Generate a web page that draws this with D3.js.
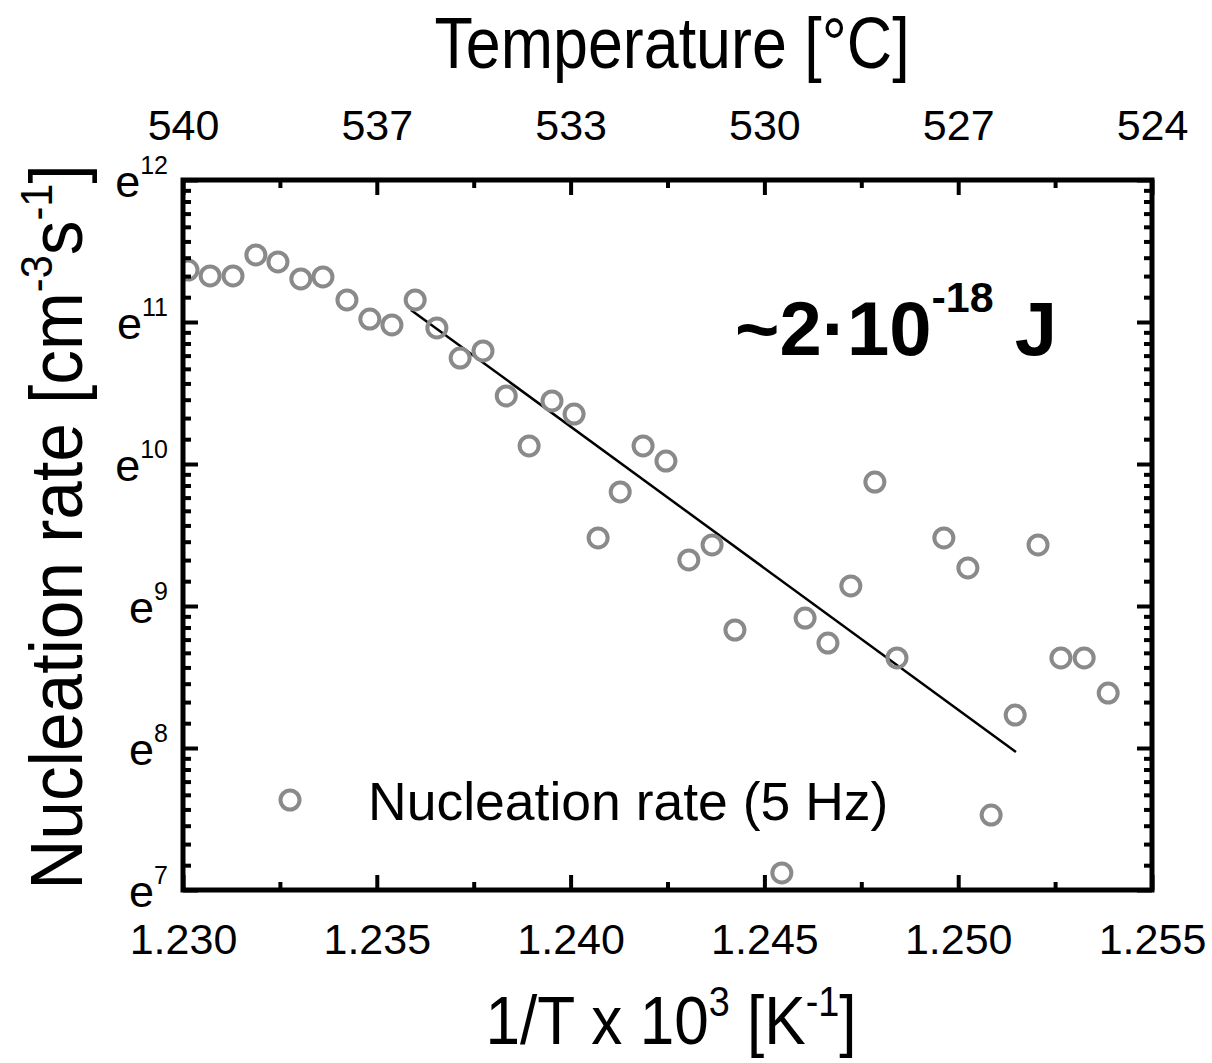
<!DOCTYPE html>
<html>
<head>
<meta charset="utf-8">
<script src="https://cdn.jsdelivr.net/npm/d3@7"></script>
<style>
  body { margin: 0; background: #fff; }
  svg text { font-family: Arial, "Liberation Sans", sans-serif; fill: #000; }
</style>
</head>
<body>
<script>
// 1/T x 10^3 [K^-1]
const invT = [
  1.23013, 1.23070, 1.23129, 1.23188, 1.23245, 1.23304, 1.23361, 1.23423,
  1.23482, 1.23539, 1.23599, 1.23655, 1.23715, 1.23774, 1.23834, 1.23893,
  1.23952, 1.24009, 1.24071, 1.24128, 1.24187, 1.24246, 1.24305, 1.24365,
  1.24424, 1.24545, 1.24605, 1.24664, 1.24723, 1.24785, 1.24842, 1.24963,
  1.25025, 1.25085, 1.25147, 1.25206, 1.25265, 1.25325, 1.25387
]
// ln of nucleation rate [cm^-3 s^-1]
const lnRate = [
  11.366, 11.324, 11.324, 11.472, 11.423, 11.303, 11.317, 11.155,
  11.021, 10.979, 11.155, 10.958, 10.746, 10.796, 10.479, 10.127,
  10.444, 10.352, 9.479, 9.803, 10.127, 10.021, 9.324, 9.430,
  8.831, 7.120, 8.915, 8.739, 9.141, 9.873, 8.634, 9.479,
  9.268, 7.528, 8.232, 9.430, 8.634, 8.634, 8.387
]
// linear fit (Arrhenius), end points
const fitInvT = [1.23588, 1.25149]
const fitLnRate = [11.085, 7.972]

const xTicks = [1.230, 1.235, 1.240, 1.245, 1.250, 1.255]
const yPowers = [7, 8, 9, 10, 11, 12]

;(function () {
  'use strict'
  const width = 1212, height = 1063
  const margin = {top: 180, right: 60, bottom: 173, left: 183}
  const x0 = margin.left, x1 = width - margin.right
  const y0 = margin.top, y1 = height - margin.bottom
  const grey = '#8a8a8a'

  const x = d3.scaleLinear().domain([1.230, 1.255]).range([x0, x1])
  const y = d3.scaleLog().base(Math.E).domain([Math.exp(7), Math.exp(12)]).range([y1, y0])

  const xMinor = d3.pairs(xTicks).map(p => (p[0] + p[1]) / 2)
  const yMinor = []
  yPowers.slice(0, -1).forEach(n => {
    const a = Math.exp(n), b = Math.exp(n + 1)
    for (let k = 1; k <= 8; k++) yMinor.push(a + k * (b - a) / 9)
  })

  const svg = d3.select('body').append('svg')
    .attr('width', width)
    .attr('height', height)

  svg.append('defs').append('clipPath').attr('id', 'plot')
    .append('rect')
    .attr('x', x0).attr('y', y0)
    .attr('width', x1 - x0).attr('height', y1 - y0)

  const plot = svg.append('g').attr('clip-path', 'url(#plot)')

  // fit line
  plot.append('line')
    .attr('x1', x(fitInvT[0]))
    .attr('y1', y(Math.exp(fitLnRate[0])))
    .attr('x2', x(fitInvT[1]))
    .attr('y2', y(Math.exp(fitLnRate[1])))
    .style('stroke', '#000')
    .style('stroke-width', 2.5)

  // data
  plot.selectAll('.dot')
    .data(invT.map((d, i) => ({x: d, r: Math.exp(lnRate[i])})))
    .enter().append('circle')
    .attr('class', 'dot')
    .attr('cx', d => x(d.x))
    .attr('cy', d => y(d.r))
    .attr('r', 9.5)
    .style('fill', 'none')
    .style('stroke', grey)
    .style('stroke-width', 4)

  function styleAxis (g, size) {
    g.select('.domain').remove()
    g.selectAll('.tick line').style('stroke', '#000').style('stroke-width', 4)
    g.selectAll('.tick text').style('font-size', size + 'px').style('font-family', 'Arial, "Liberation Sans", sans-serif')
  }

  // bottom axis
  svg.append('g')
    .attr('transform', `translate(0, ${y1})`)
    .call(d3.axisBottom(x).tickValues(xTicks).tickSizeInner(-15).tickSizeOuter(0)
      .tickPadding(33).tickFormat(d3.format('.3f')))
    .call(g => styleAxis(g, 43))
  svg.append('g')
    .attr('transform', `translate(0, ${y1})`)
    .call(d3.axisBottom(x).tickValues(xMinor).tickSizeInner(-8).tickSizeOuter(0).tickFormat(''))
    .call(g => styleAxis(g, 43))

  // top axis (temperature in °C)
  svg.append('g')
    .attr('transform', `translate(0, ${y0})`)
    .call(d3.axisTop(x).tickValues(xTicks).tickSizeInner(-15).tickSizeOuter(0)
      .tickPadding(40).tickFormat(d => Math.round(1000 / d - 273.15)))
    .call(g => styleAxis(g, 43))
  svg.append('g')
    .attr('transform', `translate(0, ${y0})`)
    .call(d3.axisTop(x).tickValues(xMinor).tickSizeInner(-8).tickSizeOuter(0).tickFormat(''))
    .call(g => styleAxis(g, 43))

  // left axis
  const yLeft = svg.append('g')
    .attr('transform', `translate(${x0}, 0)`)
    .call(d3.axisLeft(y).tickValues(yPowers.map(Math.exp)).tickSizeInner(-15).tickSizeOuter(0)
      .tickPadding(15).tickFormat(''))
    .call(g => styleAxis(g, 45))
  yLeft.selectAll('.tick text')
    .attr('dy', 16)
    .each(function (d) {
      const t = d3.select(this)
      t.append('tspan').text('e')
      t.append('tspan').attr('dy', -23).style('font-size', '25px').text(Math.round(Math.log(d)))
    })
  svg.append('g')
    .attr('transform', `translate(${x0}, 0)`)
    .call(d3.axisLeft(y).tickValues(yMinor).tickSizeInner(-8).tickSizeOuter(0).tickFormat(''))
    .call(g => styleAxis(g, 44))

  // right axis
  svg.append('g')
    .attr('transform', `translate(${x1}, 0)`)
    .call(d3.axisRight(y).tickValues(yPowers.map(Math.exp)).tickSizeInner(-15).tickSizeOuter(0).tickFormat(''))
    .call(g => styleAxis(g, 44))
  svg.append('g')
    .attr('transform', `translate(${x1}, 0)`)
    .call(d3.axisRight(y).tickValues(yMinor).tickSizeInner(-8).tickSizeOuter(0).tickFormat(''))
    .call(g => styleAxis(g, 44))

  // frame
  svg.append('rect')
    .attr('x', x0).attr('y', y0)
    .attr('width', x1 - x0).attr('height', y1 - y0)
    .style('fill', 'none')
    .style('stroke', '#000')
    .style('stroke-width', 5)

  // titles
  svg.append('text')
    .attr('transform', 'translate(672, 68) scale(0.86, 1)')
    .attr('text-anchor', 'middle')
    .style('font-size', '73px')
    .text('Temperature [°C]')

  const xTitle = svg.append('text')
    .attr('transform', 'translate(671, 1044) scale(0.9, 1)')
    .attr('text-anchor', 'middle')
    .style('font-size', '69px')
  xTitle.append('tspan').text('1/T x 10')
  xTitle.append('tspan').attr('dy', -28).style('font-size', '42px').text('3')
  xTitle.append('tspan').attr('dy', 28).text(' [K')
  xTitle.append('tspan').attr('dy', -28).style('font-size', '42px').text('-1')
  xTitle.append('tspan').attr('dy', 28).text(']')

  const yTitle = svg.append('text')
    .attr('transform', 'translate(82, 527) rotate(-90) scale(0.925, 1)')
    .attr('text-anchor', 'middle')
    .style('font-size', '75px')
  yTitle.append('tspan').text('Nucleation rate [cm')
  yTitle.append('tspan').attr('dy', -30).style('font-size', '45px').text('-3')
  yTitle.append('tspan').attr('dy', 30).text('s')
  yTitle.append('tspan').attr('dy', -30).style('font-size', '45px').text('-1')
  yTitle.append('tspan').attr('dy', 30).text(']')

  // annotation
  const note = svg.append('text')
    .attr('x', 735).attr('y', 355)
    .style('font-size', '76px')
    .style('font-weight', 'bold')
  note.append('tspan').text('~2·10')
  note.append('tspan').attr('dy', -43).style('font-size', '43px').text('-18')
  note.append('tspan').attr('dy', 43).text(' J')

  // legend
  svg.append('circle')
    .attr('cx', 290).attr('cy', 800).attr('r', 9.5)
    .style('fill', 'none').style('stroke', grey).style('stroke-width', 4)
  svg.append('text')
    .attr('x', 368).attr('y', 820)
    .style('font-size', '53.5px')
    .text('Nucleation rate (5 Hz)')
})()
</script>
</body>
</html>
